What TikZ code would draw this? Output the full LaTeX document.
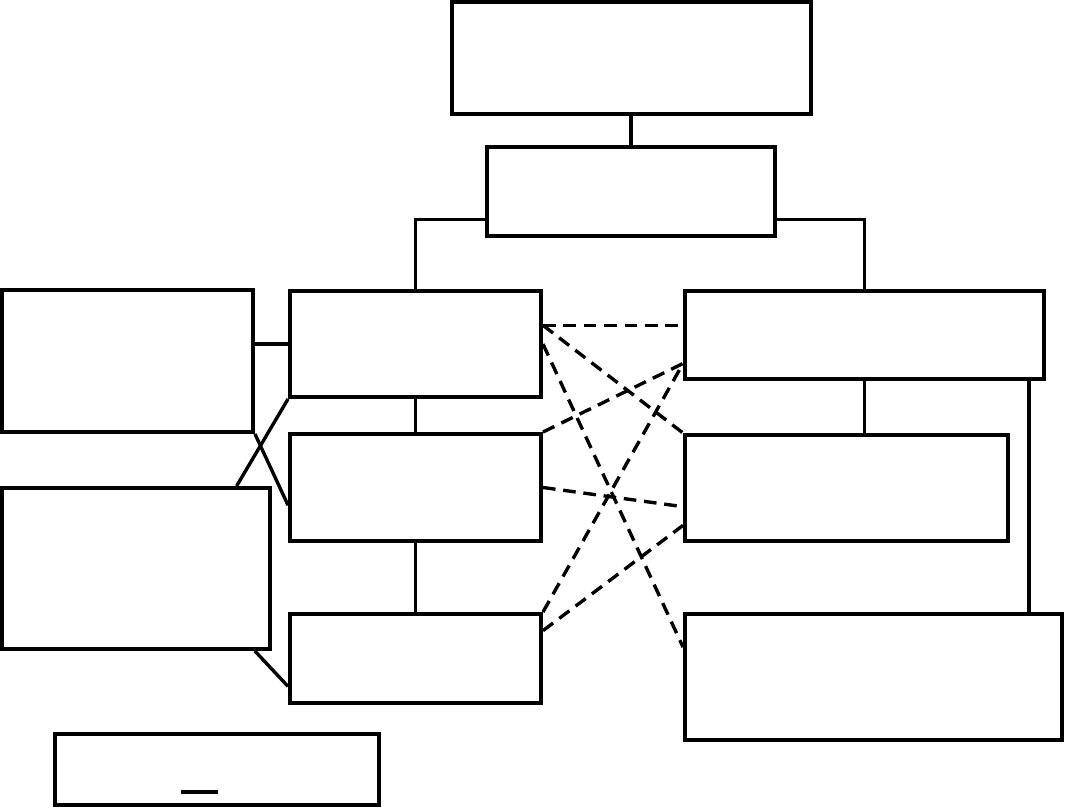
\documentclass[tikz,border=0pt]{standalone}
\usetikzlibrary{calc}
\tikzset{box/.style 2 args={draw,line width=2.8pt,inner sep=0pt,minimum width=#1*0.025cm,minimum height=#2*0.025cm},
  link/.style={line width=2.4pt},
  crosslink/.style={line width=2.4pt,dash pattern=on 9pt off 5.5pt}}
\begin{document}
\begin{tikzpicture}[x=0.025cm,y=-0.025cm]
\useasboundingbox (0,0) rectangle (1065,807);
\node[box={359}{112}] (top) at (631.5,58) {};
\node[box={288}{89}] (goal) at (631,191.5) {};
\node[box={251}{106}] (la) at (415.5,344) {};
\node[box={251}{107}] (lb) at (415.5,487.5) {};
\node[box={251}{89}] (lc) at (415.5,658.5) {};
\node[box={251}{142}] (sidea) at (127.5,361) {};
\node[box={268}{161}] (sideb) at (136,568.5) {};
\node[box={324}{71}] (legend) at (217,769.5) {};
\node[box={359}{88}] (ra) at (864.5,335) {};
\node[box={323}{106}] (rb) at (846.5,488) {};
\node[box={377}{126}] (rc) at (873.5,677) {};
\draw[link] (goal.north |- top.south) -- (goal.north);
\draw[link] ($(goal.north west)!0.8!(goal.south west)$) -| (la.north);
\draw[link] ($(goal.north east)!0.8!(goal.south east)$) -| (ra.north);
\draw[link] (la.south) -- (lb.north);
\draw[link] (lb.south) -- (lc.north);
\draw[link] (ra.south) -- (ra.south |- rb.north);
\coordinate (rdrop) at ($(ra.south west)!0.953!(ra.south east)$);
\draw[link] (rdrop) -- (rdrop |- rc.north);
\draw[link] (la.west -| sidea.east) -- (la.west);
\draw[link] (sidea.south east) -- ($(lb.north west)!0.66!(lb.south west)$);
\draw[link] (la.south west) -- ($(sideb.north west)!0.87!(sideb.north east)$);
\draw[link] ($(sideb.south west)!0.937!(sideb.south east)$) -- ($(lc.north west)!0.8!(lc.south west)$);
\draw[line width=2.2pt] ($(legend.south west)+(128,-15)$) -- ++(37,0);
\coordinate (laout) at ($(la.north east)!0.33!(la.south east)$);
\coordinate (rain) at ($(ra.north west)!0.81!(ra.south west)$);
\draw[crosslink] (laout) -- (laout -| ra.west);
\draw[crosslink] (laout) -- (rb.north west);
\draw[crosslink] (la.east) -- ($(rc.north west)!0.27!(rc.south west)$);
\draw[crosslink] (lb.north east) -- (rain);
\draw[crosslink] (lb.east) -- ($(rb.north west)!0.67!(rb.south west)$);
\draw[crosslink] (lc.north east) -- (rain);
\draw[crosslink] ($(lc.north east)!0.2!(lc.south east)$) -- ($(rb.north west)!0.84!(rb.south west)$);
\end{tikzpicture}
\end{document}
